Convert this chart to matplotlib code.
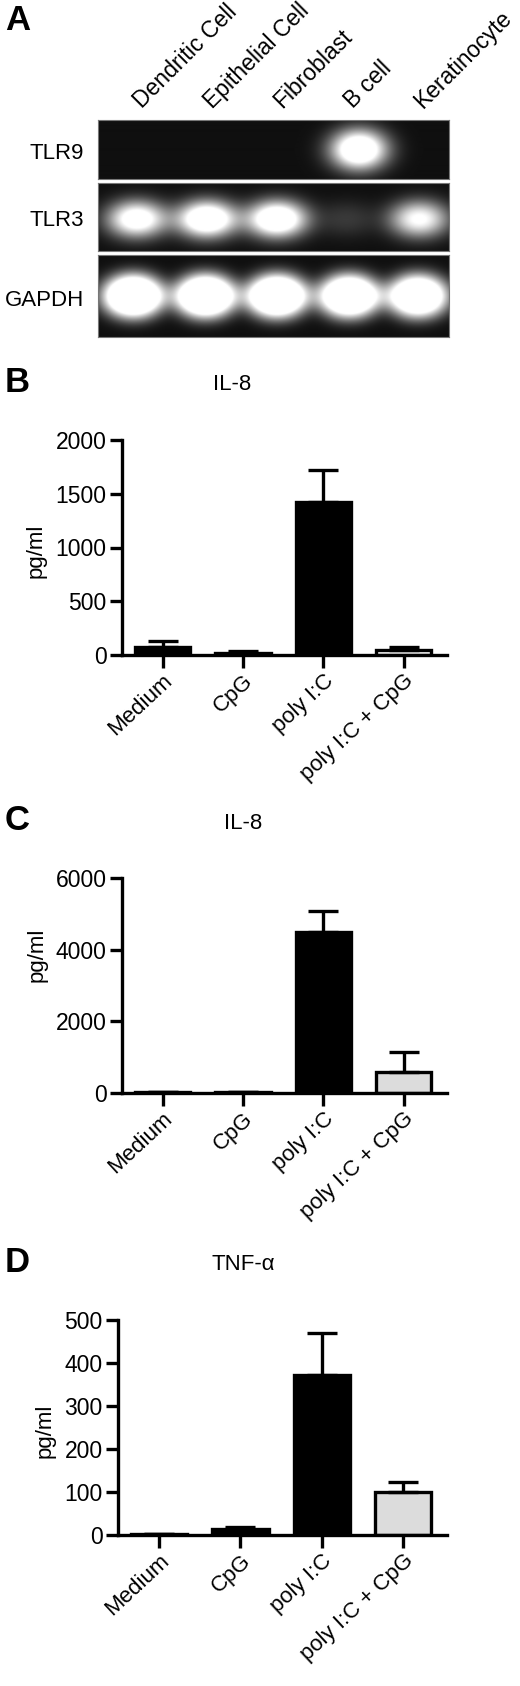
import numpy as np
import matplotlib
matplotlib.use("Agg")
import matplotlib.pyplot as plt
import matplotlib.transforms as mtransforms

plt.rcParams['font.family'] = ['Liberation Sans', 'DejaVu Sans']

# ---------------- data ----------------
lanes = ['Dendritic Cell', 'Epithelial Cell', 'Fibroblast', 'B cell', 'Keratinocyte']
genes = ['TLR9', 'TLR3', 'GAPDH']
tlr9_band = [0.0, 0.0, 0.0, 1.0, 0.0]
tlr3_band = [0.85, 1.0, 1.0, 0.12, 0.72]
gapdh_band = [1.0, 1.0, 1.0, 0.95, 0.9]

categories = ['Medium', 'CpG', 'poly I:C', 'poly I:C + CpG']
il8_b_mean = [75, 20, 1420, 50]
il8_b_err = [52, 20, 300, 25]
il8_c_mean = [40, 40, 4480, 600]
il8_c_err = [0, 0, 600, 550]
tnf_mean = [3, 13, 373, 99]
tnf_err = [0, 5, 96, 25]

b_colors = ['black', 'black', 'black', 'white']
c_colors = ['black', 'black', 'black', '#dcdcdc']
d_colors = ['black', 'black', 'black', '#dcdcdc']

W, H = 520, 1686
fig = plt.figure(figsize=(W / 100, H / 100), dpi=100)


def ax_px(l, t, r, b):
    return fig.add_axes([l / W, 1 - b / H, (r - l) / W, (b - t) / H])


def ftext(x, y, s, **kw):
    return fig.text(x / W, 1 - y / H, s, **kw)


# ---------------- panel A: gel ----------------
def gel_image(intens, shift, yc, a, b, p, gain):
    x = np.linspace(-0.5, 4.5, 702)
    y = np.linspace(0, 1, 200)
    X, Y = np.meshgrid(x, y)
    img = np.zeros_like(X)
    for i, v in enumerate(intens):
        r2 = ((X - i - shift[i]) / a) ** 2 + ((Y - yc) / b) ** 2
        img += v * gain * np.exp(-r2 ** p)
    return np.clip(img + 0.06, 0, 1)


gel_rows = [
    ('TLR9', tlr9_band, (98, 120, 449, 179), [0, 0, 0, 0.22, 0], 0.50, 0.40, 0.34, 1.1, 1.35),
    ('TLR3', tlr3_band, (98, 183, 449, 251), [0.05, 0.05, 0.05, 0.05, 0.08], 0.47, 0.42, 0.27, 1.1, 1.35),
    ('GAPDH', gapdh_band, (98, 255, 449, 337), [0.0, 0.03, 0.05, 0.08, 0.06], 0.50, 0.44, 0.27, 1.4, 1.7),
]
gel_axes = []
for name, band, (l, t, r, b), shift, yc, a, bb, p, gain in gel_rows:
    ax = ax_px(l, t, r, b)
    img = gel_image(band, shift, yc, a, bb, p, gain)
    ax.imshow(img, cmap='gray', vmin=0, vmax=1, aspect='auto',
              extent=(-0.5, 4.5, 0, 1), origin='lower', interpolation='bilinear')
    ax.set_xticks([])
    ax.set_yticks([])
    for s in ax.spines.values():
        s.set_color('#777777')
        s.set_linewidth(0.8)
    ftext(84, (t + b) / 2 + 4, name, ha='right', va='center', fontsize=16)
    gel_axes.append(ax)

top_ax = gel_axes[0]
trans = mtransforms.blended_transform_factory(top_ax.transData, top_ax.transAxes) + \
    mtransforms.ScaledTranslation(9 / 100, 0, fig.dpi_scale_trans)
for i, lab in enumerate(lanes):
    top_ax.text(i, 1 + 11 / 59, lab, transform=trans, rotation=45,
                rotation_mode='anchor', ha='left', va='baseline',
                fontsize=16.5, clip_on=False)

ftext(5, 20, 'A', ha='left', va='center', fontsize=25, fontweight='bold')


# ---------------- bar panels ----------------
def bar_panel(box, means, errs, colors, ymax, step, title, title_xy,
              letter, letter_y, ylab_xy):
    ax = ax_px(*box)
    x = np.arange(len(categories))
    lw = 2.4
    ax.bar(x, means, width=0.69, color=colors, edgecolor='black',
           linewidth=lw, zorder=2)
    ax.errorbar(x, means, yerr=[np.zeros(len(errs)), errs], fmt='none',
                ecolor='black', elinewidth=lw, capsize=11, capthick=lw, zorder=3)
    ax.set_xlim(-0.506, 3.54)
    ax.set_ylim(0, ymax)
    ax.set_yticks(np.arange(0, ymax + 1, step))
    ax.set_xticks(x)
    ax.set_xticklabels(categories, rotation=43, ha='right',
                       rotation_mode='anchor', fontsize=16)
    for lbl in ax.get_xticklabels():
        lbl.set_transform(lbl.get_transform() +
                          mtransforms.ScaledTranslation(7 / 100, -4 / 100,
                                                        fig.dpi_scale_trans))
    ax.tick_params(axis='both', direction='out', length=9, width=lw, pad=2)
    ax.tick_params(axis='y', labelsize=16.5)
    ax.spines['top'].set_visible(False)
    ax.spines['right'].set_visible(False)
    ax.spines['left'].set_linewidth(lw)
    ax.spines['bottom'].set_linewidth(lw)
    ax.patch.set_alpha(0)
    ftext(title_xy[0], title_xy[1], title, ha='center', va='center', fontsize=16)
    ftext(5, letter_y, letter, ha='left', va='center', fontsize=25,
          fontweight='bold')
    ftext(ylab_xy[0], ylab_xy[1], 'pg/ml', ha='center', va='center',
          rotation=90, fontsize=16)
    return ax


bar_panel((122, 440, 447, 655), il8_b_mean, il8_b_err, b_colors, 2000, 500,
          'IL-8', (232, 384), 'B', 382, (36, 551))
bar_panel((122, 878, 447, 1093), il8_c_mean, il8_c_err, c_colors, 6000, 2000,
          'IL-8', (243, 823), 'C', 821, (37, 955))
bar_panel((118, 1320, 447, 1535), tnf_mean, tnf_err, d_colors, 500, 100,
          'TNF-α', (243, 1265), 'D', 1262, (45, 1431))

fig.savefig('out.png', dpi=100)
